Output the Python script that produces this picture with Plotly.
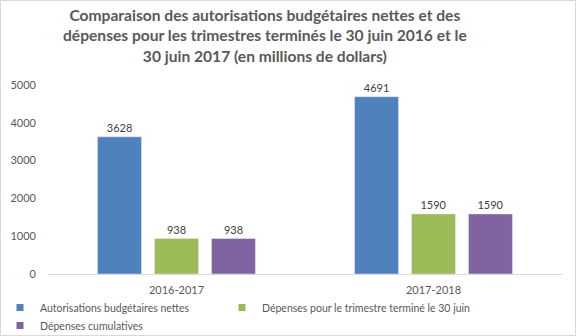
import plotly.graph_objects as go

categories = ["2016-2017", "2017-2018"]
series_names = [
    "Autorisations budgétaires nettes",
    "Dépenses pour le trimestre terminé le 30 juin",
    "Dépenses cumulatives",
]
autorisations = [3628, 4691]
depenses_trimestre = [938, 1590]
depenses_cumulatives = [938, 1590]
colors = ["#4F81BD", "#9BBB59", "#8064A2"]
y_ticks = [0, 1000, 2000, 3000, 4000, 5000]

title_lines = [
    "Comparaison des autorisations budgétaires nettes et des",
    "dépenses pour les trimestres terminés le 30 juin 2016 et le",
    "30 juin 2017 (en millions de dollars)",
]

W, H = 576, 336
ML, MR, MT, MB = 48, 14, 85, 62

fig = go.Figure()
for name, vals, col in zip(series_names,
                           [autorisations, depenses_trimestre, depenses_cumulatives],
                           colors):
    fig.add_trace(go.Bar(
        x=categories, y=vals, name=name, marker_color=col, showlegend=False,
        text=[str(v) for v in vals], textposition="outside",
        textfont=dict(size=11, color="#404040"), cliponaxis=False,
    ))

# legend proxies with small square symbols, one legend box per entry
legend_ids = ["legend", "legend2", "legend3"]
legend_pos = [(-15, 293), (222, 293), (-15, 311)]  # pixel positions (left, top)
for name, col, lid in zip(series_names, colors, legend_ids):
    fig.add_trace(go.Scatter(
        x=[None], y=[None], mode="markers", name=name, legend=lid,
        marker=dict(symbol="square", size=7, color=col), showlegend=True,
    ))

title_html = "<br>".join("<b>%s</b>" % t for t in title_lines)

leg_common = dict(orientation="h", xref="container", yref="container",
                  xanchor="left", yanchor="top",
                  font=dict(size=10.5, color="#595959"),
                  itemwidth=30, bgcolor="rgba(0,0,0,0)")
legends = {}
for lid, (px, py) in zip(legend_ids, legend_pos):
    d = dict(leg_common)
    d.update(x=px / W, y=1 - py / H)
    legends[lid] = d

fig.update_layout(
    width=W, height=H,
    margin=dict(l=ML, r=MR, t=MT, b=MB, autoexpand=False),
    paper_bgcolor="white", plot_bgcolor="white",
    font=dict(family="Lato, Arial, sans-serif", size=11, color="#595959"),
    barmode="group", bargap=0.335, bargroupgap=0.228,
    showlegend=True,
    xaxis=dict(showline=True, linecolor="#D9D9D9", linewidth=1, ticks="",
               ticklabelstandoff=6, tickfont=dict(size=11, color="#595959")),
    yaxis=dict(range=[0, 5000], tickvals=y_ticks, showgrid=False, zeroline=False,
               showline=False, ticklabelstandoff=11,
               tickfont=dict(size=11, color="#595959")),
    annotations=[dict(text=title_html, xref="paper", yref="paper",
                      x=(265 - ML) / (W - ML - MR), y=1 + (MT - 4) / (H - MT - MB),
                      xanchor="center", yanchor="top", showarrow=False,
                      align="center",
                      font=dict(family="Lato, Arial, sans-serif", size=15.6, color="#595959"))],
    shapes=[dict(type="rect", xref="paper", yref="paper",
                 x0=-(ML - 0.5) / (W - ML - MR), x1=1 + (MR - 0.5) / (W - ML - MR),
                 y0=-(MB - 0.5) / (H - MT - MB), y1=1 + (MT - 0.5) / (H - MT - MB),
                 line=dict(color="#D9D9D9", width=1), fillcolor="rgba(0,0,0,0)")],
    **legends,
)

fig.write_html("out.html")
